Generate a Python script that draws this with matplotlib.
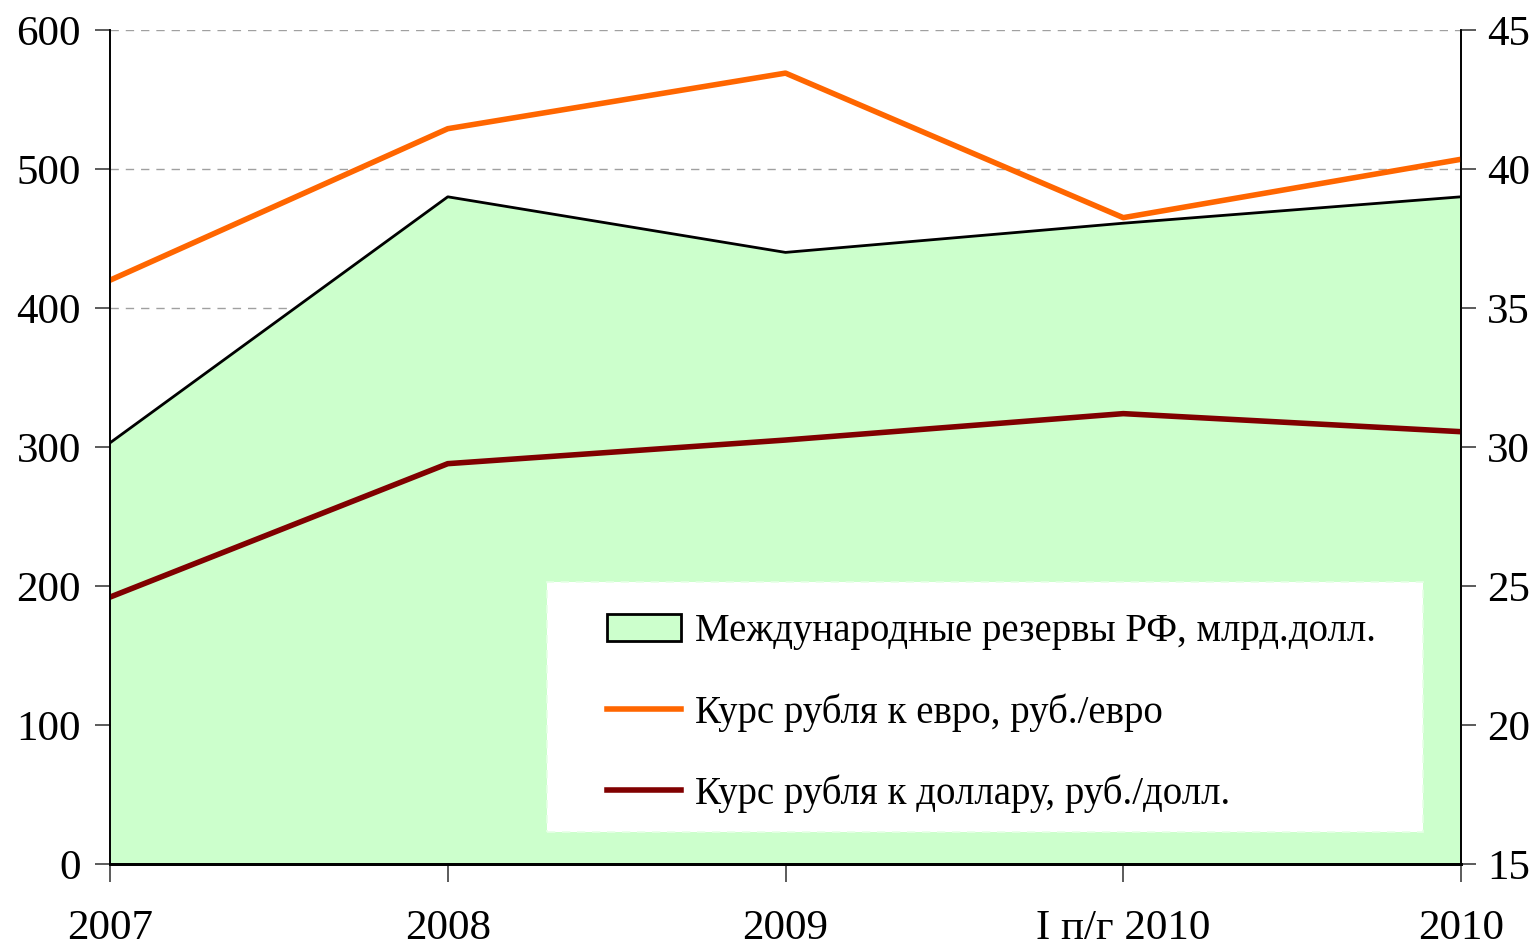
import matplotlib
matplotlib.use("Agg")
import matplotlib.pyplot as plt
from matplotlib.patches import Patch, Rectangle
from matplotlib.lines import Line2D

plt.rcParams["font.family"] = ["Liberation Serif", "DejaVu Serif"]

# --- Data ---
periods = ["2007", "2008", "2009", "I п/г 2010", "2010"]
reserves = [303, 480, 440, 461, 480]          # млрд.долл. (left axis)
eur_rate = [36.0, 41.45, 43.45, 38.25, 40.35]  # руб./евро (right axis)
usd_rate = [24.6, 29.4, 30.25, 31.2, 30.55]    # руб./долл. (right axis)

FILL = "#CCFFCC"
ORANGE = "#FF6600"
DARKRED = "#800000"

x = list(range(len(periods)))

fig = plt.figure(figsize=(15.39, 9.47), dpi=100, facecolor="white")
ax = fig.add_axes([0.0715, 0.0877, 0.8778, 0.8806])
ax2 = ax.twinx()

# reserves area
ax.fill_between(x, reserves, 0, color=FILL, zorder=2, linewidth=0)
ax.plot(x, reserves, color="black", linewidth=2, zorder=3)
ax.set_ylim(0, 600)
ax.set_xlim(0, len(x) - 1)
ax.set_yticks(range(0, 601, 100))
ax.yaxis.grid(True, color="#a0a0a0", linestyle=(0, (6, 5)), linewidth=1)
ax.set_axisbelow(True)

# exchange rates
ax2.plot(x, eur_rate, color=ORANGE, linewidth=4, solid_capstyle="butt")
ax2.plot(x, usd_rate, color=DARKRED, linewidth=4, solid_capstyle="butt")
ax2.set_ylim(15, 45)
ax2.set_yticks(range(15, 46, 5))

ax.set_xticks(x)
ax.set_xticklabels(periods)

for a in (ax, ax2):
    a.spines["top"].set_visible(False)
    a.spines["left"].set_linewidth(1.2)
    a.spines["right"].set_linewidth(1.2)
    a.spines["bottom"].set_linewidth(2)
    a.tick_params(labelsize=31, width=1.2, length=11, color="#404040")

ax.tick_params(axis="x", pad=20, length=13)
ax.tick_params(axis="y", pad=10)
ax2.tick_params(axis="y", pad=8)

# legend box (drawn separately so padding can be set freely)
box = Rectangle((0.3235, 0.0384), 0.6485, 0.30, transform=ax2.transAxes,
                facecolor="white", edgecolor="#e6ffe6", linewidth=1.2,
                linestyle=(0, (5, 4)), zorder=4)
ax2.add_patch(box)

handles = [
    Patch(facecolor=FILL, edgecolor="black", linewidth=2),
    Line2D([], [], color=ORANGE, linewidth=4),
    Line2D([], [], color=DARKRED, linewidth=4),
]
labels = [
    "Международные резервы РФ, млрд.долл.",
    "Курс рубля к евро, руб./евро",
    "Курс рубля к доллару, руб./долл.",
]
leg = ax2.legend(handles, labels, loc="center left",
                 bbox_to_anchor=(0.3679, 0.181), borderaxespad=0,
                 borderpad=0, fontsize=28, frameon=False,
                 labelspacing=1.1, handlelength=1.9, handletextpad=0.36)
leg.set_zorder(5)

fig.savefig("out.png", dpi=100, facecolor="white")
